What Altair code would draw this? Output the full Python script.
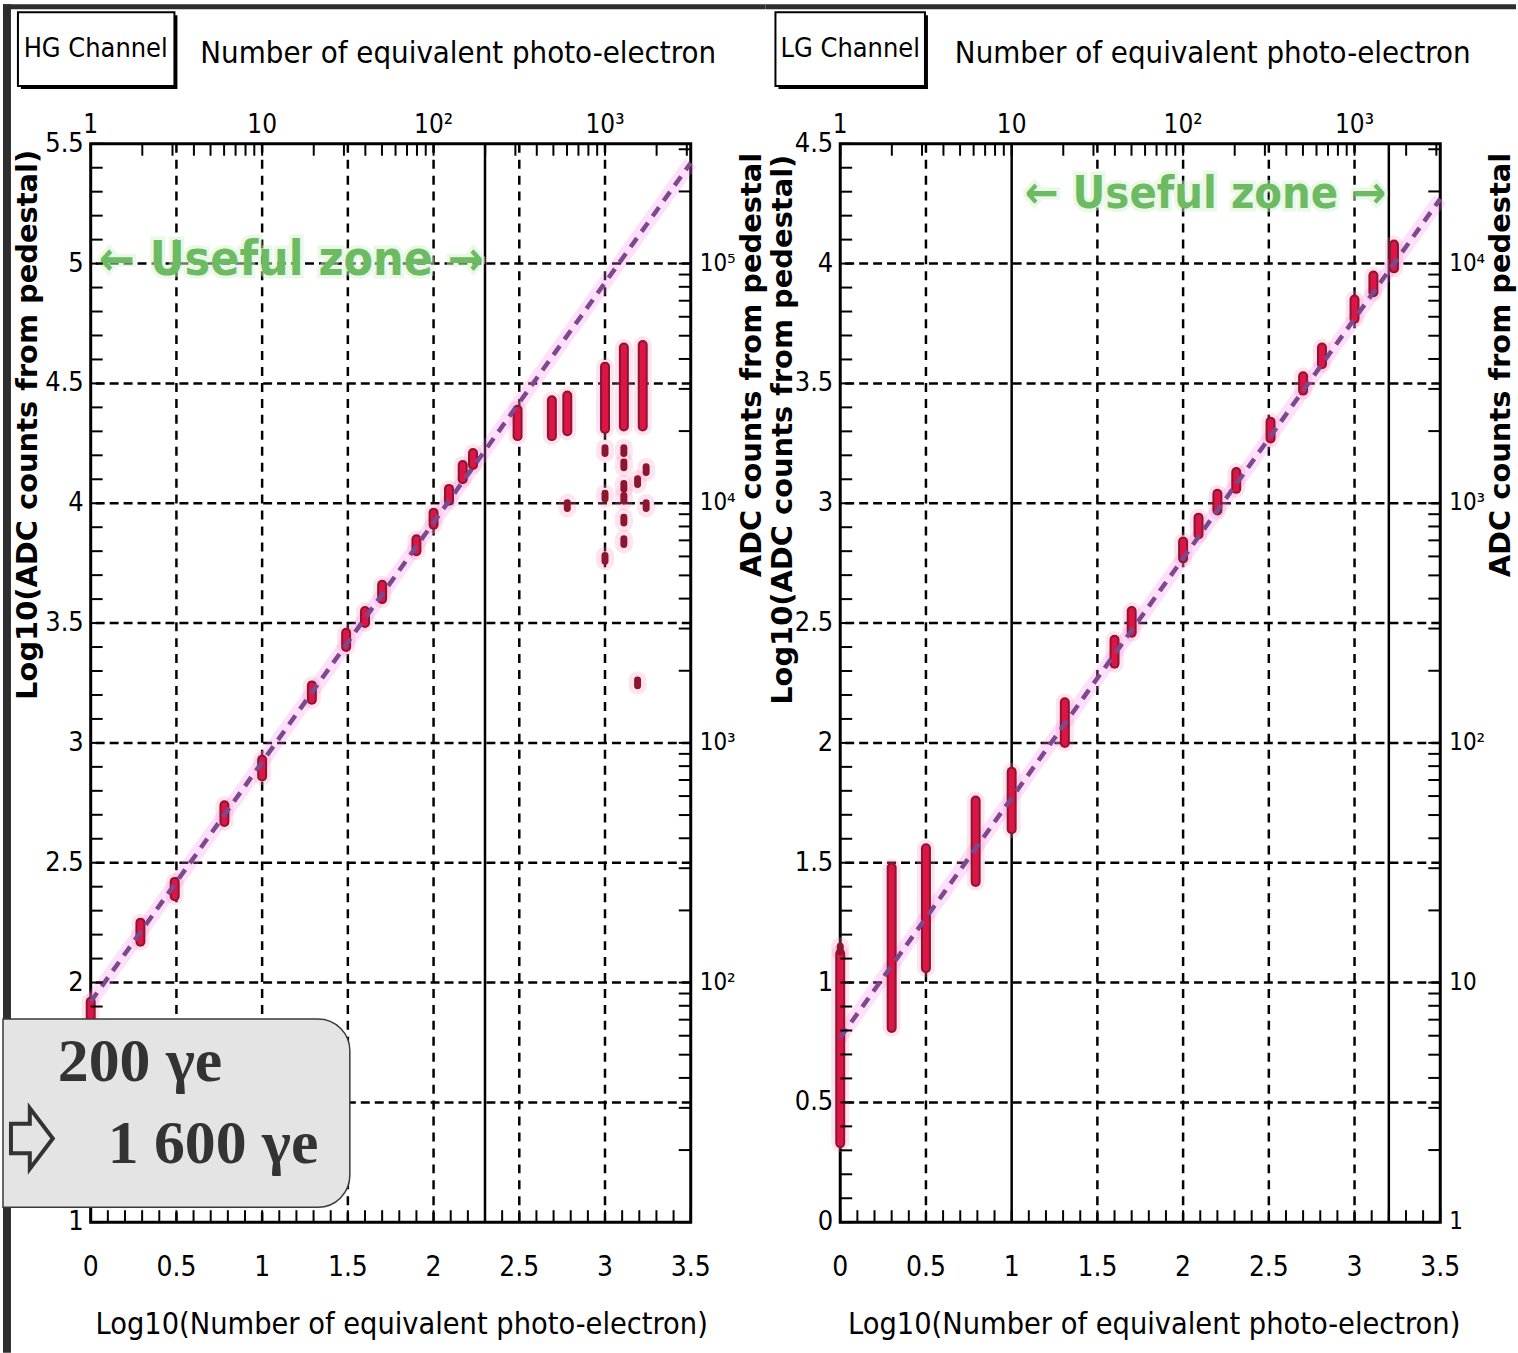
import numpy as np
import pandas as pd
import altair as alt

# ------------------------------------------------------------------ data
X_LABELS = [0, 0.5, 1, 1.5, 2, 2.5, 3, 3.5]
X_LABEL_TEXT = ["0", "0.5", "1", "1.5", "2", "2.5", "3", "3.5"]
TOP_VALUES = [0, 1, 2, 3]
TOP_TEXT = ["1", "10", "10²", "10³"]

# HG channel (the 1.5 label is hidden behind the inset box in the original)
hg_y_domain = [1, 5.5]
hg_left_values = [1, 2, 2.5, 3, 3.5, 4, 4.5, 5, 5.5]
hg_left_text = ["1", "2", "2.5", "3", "3.5", "4", "4.5", "5", "5.5"]
hg_right_values = [2, 3, 4, 5]
hg_right_text = ["10²", "10³", "10⁴", "10⁵"]
hg_grid_x = [0.5, 1, 1.5, 2, 2.5, 3]
hg_grid_y = [1.5, 2, 2.5, 3, 3.5, 4, 4.5, 5]
hg_solid_x = [2.3]
hg_fit_x = [0.0, 3.5]
hg_fit_y = [1.92, 5.42]
hg_pt_x = [0.0, 0.29, 0.49, 0.78, 1.0, 1.29, 1.49, 1.6, 1.7, 1.9, 2.0, 2.09, 2.17, 2.23,
           2.49, 2.69, 2.78, 3.0, 3.11, 3.22]
hg_pt_lo = [1.80, 2.17, 2.36, 2.67, 2.86, 3.18, 3.40, 3.50, 3.60, 3.80, 3.91, 4.01, 4.10, 4.16,
            4.28, 4.28, 4.30, 4.31, 4.32, 4.32]
hg_pt_hi = [1.92, 2.25, 2.42, 2.74, 2.93, 3.24, 3.46, 3.55, 3.66, 3.85, 3.96, 4.06, 4.16, 4.21,
            4.39, 4.43, 4.45, 4.57, 4.65, 4.66]
hg_out_x = [2.78, 3.0, 3.0, 3.0, 3.11, 3.11, 3.11, 3.11, 3.11, 3.11, 3.19, 3.24, 3.24, 3.19]
hg_out_y = [3.99, 4.22, 4.03, 3.77, 4.22, 4.16, 4.07, 4.02, 3.93, 3.84, 4.09, 4.14, 3.99, 3.25]
hg_zone = (1.17, 5.01, 48)

# LG channel
lg_y_domain = [0, 4.5]
lg_left_values = [0, 0.5, 1, 1.5, 2, 2.5, 3, 3.5, 4, 4.5]
lg_left_text = ["0", "0.5", "1", "1.5", "2", "2.5", "3", "3.5", "4", "4.5"]
lg_right_values = [0, 1, 2, 3, 4]
lg_right_text = ["1", "10", "10²", "10³", "10⁴"]
lg_grid_x = [0.5, 1.5, 2, 2.5, 3]
lg_grid_y = [0.5, 1, 1.5, 2, 2.5, 3, 3.5, 4]
lg_solid_x = [1.0, 3.2]
lg_fit_x = [0.0, 3.5]
lg_fit_y = [0.77, 4.27]
lg_pt_x = [0.0, 0.3, 0.5, 0.79, 1.0, 1.31, 1.6, 1.7, 2.0, 2.09, 2.2, 2.31, 2.51, 2.7, 2.81,
           3.0, 3.11, 3.23]
lg_pt_lo = [0.33, 0.81, 1.06, 1.42, 1.64, 2.0, 2.33, 2.46, 2.77, 2.87, 2.97, 3.06, 3.27, 3.47,
            3.58, 3.77, 3.88, 3.98]
lg_pt_hi = [1.12, 1.48, 1.56, 1.76, 1.88, 2.17, 2.43, 2.55, 2.84, 2.94, 3.04, 3.13, 3.34, 3.53,
            3.65, 3.85, 3.95, 4.08]
lg_out_x = [0.0]
lg_out_y = [1.14]
lg_zone = (2.13, 4.29, 45)

# ------------------------------------------------------------------ style
W, H = 602, 1082
NARROW = "Liberation Sans Narrow, DejaVu Sans Condensed, Liberation Sans, sans-serif"
WIDE = "DejaVu Sans, Liberation Sans, sans-serif"
SERIF = "Liberation Serif, DejaVu Serif, serif"
TICK = 12
ARROW = "M -1 -0.7 L -0.1 -0.7 L -0.1 -1.45 L 1 0 L -0.1 1.45 L -0.1 0.7 L -1 0.7 Z"


def one():
    return pd.DataFrame({"k": [0]})


def vtext(text, x, y, size, font=NARROW, angle=0, align="center", baseline="middle",
          weight="normal", color="black"):
    return alt.Chart(pd.DataFrame({"t": [text]})).mark_text(
        font=font, fontSize=size, angle=angle, align=align, baseline=baseline,
        fontWeight=weight, color=color
    ).encode(x=alt.value(x), y=alt.value(y), text="t:N")


def vrect(x, x2, y, y2, **kw):
    return alt.Chart(one()).mark_rect(**kw).encode(
        x=alt.value(x), x2=alt.value(x2), y=alt.value(y), y2=alt.value(y2))


def panel(ydom, left_values, left_text, right_values, right_text, grid_x, grid_y, solid_x,
          fit_x, fit_y, pt_x, pt_lo, pt_hi, out_x, out_y, zone, deco):
    xs = alt.Scale(domain=[0, 3.5], nice=False, zero=False)
    ys = alt.Scale(domain=ydom, nice=False, zero=False)

    def X(f):
        return alt.X(f, type="quantitative", scale=xs, axis=None)

    def Y(f):
        return alt.Y(f, type="quantitative", scale=ys, axis=None)

    layers = []
    layers += deco["back"]

    # grid
    layers.append(alt.Chart(pd.DataFrame({"x": grid_x})).mark_rule(
        color="black", strokeWidth=2.5, strokeDash=[9, 7]).encode(x=X("x")))
    layers.append(alt.Chart(pd.DataFrame({"y": grid_y})).mark_rule(
        color="black", strokeWidth=2.5, strokeDash=[9, 5]).encode(y=Y("y")))
    layers.append(alt.Chart(pd.DataFrame({"x": solid_x})).mark_rule(
        color="black", strokeWidth=2.5).encode(x=X("x")))

    # useful zone text
    zdf = pd.DataFrame({"x": [zone[0]], "y": [zone[1]], "t": ["← Useful zone →"]})
    layers.append(alt.Chart(zdf).mark_text(
        font=NARROW, fontSize=zone[2], fontWeight="bold", color="#c4eabb",
        stroke="#d9f3d2", strokeWidth=7, opacity=0.5).encode(x=X("x"), y=Y("y"), text="t:N"))
    layers.append(alt.Chart(zdf).mark_text(
        font=NARROW, fontSize=zone[2], fontWeight="bold", color="#6cbb63").encode(
        x=X("x"), y=Y("y"), text="t:N"))

    # fit line glow
    fdf = pd.DataFrame({"x": fit_x, "y": fit_y})
    layers.append(alt.Chart(fdf).mark_line(color="#ff7fe6", strokeWidth=14, opacity=0.25).encode(
        x=X("x"), y=Y("y")))

    # data points
    pdf = pd.DataFrame({"x": pt_x, "lo": pt_lo, "hi": pt_hi})
    odf = pd.DataFrame({"x": out_x, "lo": [v - 0.012 for v in out_y],
                        "hi": [v + 0.012 for v in out_y]})
    for df in (pdf, odf):
        layers.append(alt.Chart(df).mark_rule(color="#ff8fc0", strokeWidth=18, opacity=0.25,
                                              strokeCap="round").encode(
            x=X("x"), y=Y("lo"), y2="hi"))
    layers.append(alt.Chart(pdf).mark_rule(color="#8c1530", strokeWidth=10, strokeCap="round").encode(
        x=X("x"), y=Y("lo"), y2="hi"))
    layers.append(alt.Chart(pdf).mark_rule(color="#dd1446", strokeWidth=6, strokeCap="round").encode(
        x=X("x"), y=Y("lo"), y2="hi"))
    layers.append(alt.Chart(odf).mark_rule(color="#8c1530", strokeWidth=7, strokeCap="round").encode(
        x=X("x"), y=Y("lo"), y2="hi"))

    # fit line
    layers.append(alt.Chart(fdf).mark_line(color="#7b4a8e", strokeWidth=4.5,
                                           strokeDash=[11, 8]).encode(x=X("x"), y=Y("y")))

    # inward ticks
    minor_x = [round(i * 0.1, 2) for i in range(36)]
    minor_y = [round(ydom[0] + i * 0.1, 2) for i in range(46)]
    top_ticks = [n + np.log10(k) for n in range(0, 4) for k in range(1, 10)
                 if n + np.log10(k) <= 3.5]
    right_ticks = [n + np.log10(k) for n in range(int(ydom[0]), int(ydom[1]) + 1)
                   for k in range(1, 10) if n + np.log10(k) <= ydom[1] + 1e-9]

    layers.append(alt.Chart(pd.DataFrame({"x": minor_x})).mark_rule(
        color="black", strokeWidth=2).encode(x=X("x"), y=alt.value(H), y2=alt.value(H - TICK)))
    layers.append(alt.Chart(pd.DataFrame({"x": top_ticks})).mark_rule(
        color="black", strokeWidth=2).encode(x=X("x"), y=alt.value(0), y2=alt.value(TICK)))
    layers.append(alt.Chart(pd.DataFrame({"y": minor_y})).mark_rule(
        color="black", strokeWidth=2).encode(y=Y("y"), x=alt.value(0), x2=alt.value(TICK)))
    layers.append(alt.Chart(pd.DataFrame({"y": right_ticks})).mark_rule(
        color="black", strokeWidth=2).encode(y=Y("y"), x=alt.value(W), x2=alt.value(W - TICK)))

    # tick labels (placed through the scales)
    layers.append(alt.Chart(pd.DataFrame({"x": X_LABELS, "t": X_LABEL_TEXT})).mark_text(
        font=NARROW, fontSize=28, baseline="middle", color="black").encode(
        x=X("x"), y=alt.value(H + 46), text="t:N"))
    layers.append(alt.Chart(pd.DataFrame({"x": TOP_VALUES, "t": TOP_TEXT})).mark_text(
        font=NARROW, fontSize=26, baseline="bottom", color="black").encode(
        x=X("x"), y=alt.value(-6), text="t:N"))
    layers.append(alt.Chart(pd.DataFrame({"y": left_values, "t": left_text})).mark_text(
        font=NARROW, fontSize=27, align="right", baseline="middle", color="black").encode(
        y=Y("y"), x=alt.value(-7), text="t:N"))
    layers.append(alt.Chart(pd.DataFrame({"y": right_values, "t": right_text})).mark_text(
        font=NARROW, fontSize=24, align="left", baseline="middle", color="black").encode(
        y=Y("y"), x=alt.value(W + 9), text="t:N"))

    layers += deco["front"]

    return alt.layer(*layers).properties(width=W, height=H)


def channel_box(label, x0, x1, tx):
    return [
        vrect(x0 + 3, x1 + 3, -129, -55, color="black"),
        vrect(x0, x1, -132, -58, fill="white", stroke="black", strokeWidth=2),
        vtext(label, tx, -95, 27),
    ]


hg_deco = {
    "back": [
        vrect(-88, -80, -140, 1213, color="#2e2e2e"),
        vrect(-88, 677, -140, -135, color="#2e2e2e"),
    ],
    "front": channel_box("HG Channel", -73, 84, 5) + [
        vtext("Number of equivalent photo-electron", 110, -90, 31, align="left"),
        vtext("Log10(ADC counts from pedestal)", -63, 282, 29, font=WIDE, angle=270,
              weight="bold"),
        vtext("ADC counts from pedestal", W + 62, 222, 29, font=WIDE, angle=270, weight="bold"),
        vtext("Log10(Number of equivalent photo-electron)", 312, H + 103, 30.5),
        alt.Chart(one()).mark_rect(fill="#e4e4e4", stroke="#3a3a3a", strokeWidth=1.5,
                                   cornerRadiusTopRight=32, cornerRadiusBottomRight=32).encode(
            x=alt.value(-88), x2=alt.value(260), y=alt.value(878), y2=alt.value(1067)),
        vtext("200 γe", -33, 940, 62, font=SERIF, align="left", baseline="alphabetic",
              weight="bold", color="#333333"),
        vtext("1 600 γe", 17, 1023, 62, font=SERIF, align="left", baseline="alphabetic",
              weight="bold", color="#333333"),
        alt.Chart(one()).mark_point(shape=ARROW, size=1764, filled=False, stroke="#333333",
                                    strokeWidth=4, opacity=1).encode(
            x=alt.value(-59), y=alt.value(998)),
    ],
}

lg_deco = {
    "back": [
        vrect(-75, 678, -140, -135, color="#2e2e2e"),
    ],
    "front": channel_box("LG Channel", -65, 85, 10) + [
        vtext("Number of equivalent photo-electron", 115, -90, 31, align="left"),
        vtext("Log10(ADC counts from pedestal)", -57, 287, 29, font=WIDE, angle=270,
              weight="bold"),
        vtext("ADC counts from pedestal", W + 61, 222, 29, font=WIDE, angle=270, weight="bold"),
        vtext("Log10(Number of equivalent photo-electron)", 315, H + 103, 30.5),
    ],
}

hg = panel(hg_y_domain, hg_left_values, hg_left_text, hg_right_values, hg_right_text,
           hg_grid_x, hg_grid_y, hg_solid_x, hg_fit_x, hg_fit_y, hg_pt_x, hg_pt_lo, hg_pt_hi,
           hg_out_x, hg_out_y, hg_zone, hg_deco)
lg = panel(lg_y_domain, lg_left_values, lg_left_text, lg_right_values, lg_right_text,
           lg_grid_x, lg_grid_y, lg_solid_x, lg_fit_x, lg_fit_y, lg_pt_x, lg_pt_lo, lg_pt_hi,
           lg_out_x, lg_out_y, lg_zone, lg_deco)

chart = alt.hconcat(hg, lg, spacing=150, bounds="flush").configure_view(
    stroke="black", strokeWidth=3).properties(padding=0, background="white")

chart.save("out.html", embed_options={"renderer": "svg", "actions": False})
